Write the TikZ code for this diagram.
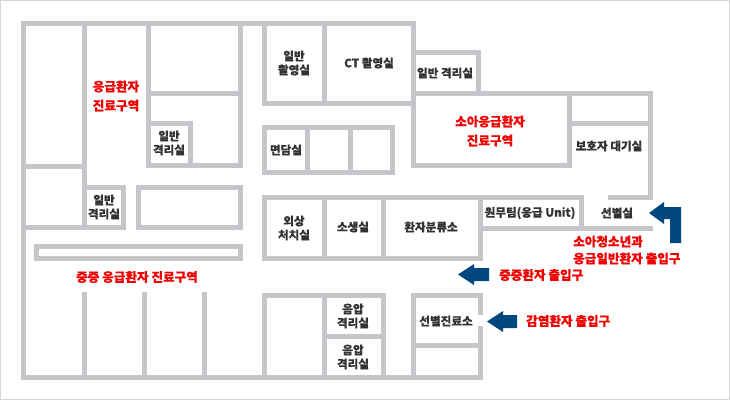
\documentclass[tikz,border=0pt]{standalone}
\usepackage{fontspec}
\setmainfont{Noto Sans CJK KR}[FakeBold=0.25]
\definecolor{wall}{RGB}{197,198,202}
\definecolor{txt}{RGB}{51,51,51}
\definecolor{redt}{RGB}{240,0,0}
\definecolor{arr}{RGB}{0,70,127}
\begin{document}
\begin{tikzpicture}[x=1pt,y=-1pt,
  w/.style={draw=wall,line width=5pt,line cap=rect,line join=miter},
  lbl/.style={text=txt,font=\fontsize{11.6}{14}\selectfont\bfseries,align=center,inner sep=0},
  rlbl/.style={text=redt,font=\fontsize{12.6}{19}\selectfont\bfseries,align=center,inner sep=0},
  rl/.style={text=redt,font=\fontsize{12.6}{17}\selectfont\bfseries,align=left,inner sep=0,anchor=west},
  ar/.style={fill=arr,draw=none}]
\useasboundingbox (0,0) rectangle (730,400);
\draw[draw={rgb,255:red,215;green,215;blue,215},line width=1pt] (0.5,0.5) rectangle (729.5,399.5);
% upper left block
\draw[w] (23,23) -- (413,23);
\draw[w] (23,23) -- (23,377) -- (480,377);
\draw[w] (84,23) -- (84,227);
\draw[w] (23,166) -- (84,166);
\draw[w] (23,227) -- (123,227) -- (123,187) -- (84,187);
\draw[w] (138,227) rectangle (240,187);
\draw[w] (148,23) -- (148,165) -- (240,165) -- (240,23);
\draw[w] (148,93) -- (240,93);
\draw[w] (148,123) -- (190,123) -- (190,165);
% top middle
\draw[w] (264,23) -- (264,103) -- (413,103) -- (413,23);
\draw[w] (324,23) -- (324,103);
\draw[w] (413,52) -- (478,52) -- (478,93);
\draw[w] (413,93) rectangle (569,165);
\draw[w] (569,93) -- (650,93) -- (650,197) -- (610,197);
\draw[w] (569,123) -- (650,123);
\draw[w] (569,165) -- (569,93);
\draw[w] (264,127) rectangle (392,172);
\draw[w] (307,127) -- (307,172);
\draw[w] (350,127) -- (350,172);
% middle row
\draw[w] (578,197) -- (264,197) -- (264,258) -- (383,258) -- (383,197);
\draw[w] (324,197) -- (324,258);
\draw[w] (480,197) -- (480,228) -- (650,228);
\draw[w] (581,197) -- (581,228);
\draw[w] (383,258) -- (480,258) -- (480,228);
% bottom
\draw[w] (36,246) rectangle (240,258);
\draw[w] (84,294) -- (84,377);
\draw[w] (144,294) -- (144,377);
\draw[w] (204,294) -- (204,377);
\draw[w] (264,377) -- (264,295) -- (383,295) -- (383,377);
\draw[w] (324,295) -- (324,377);
\draw[w] (324,336) -- (383,336);
\draw[w] (480,312) -- (480,295) -- (413,295) -- (413,377);
\draw[w] (480,328) -- (480,377);
\draw[w] (413,345) -- (480,345);
% labels
\node[rlbl] (er) at (116,96) {응급환자\\진료구역};
\node[lbl] (iso1) at (169,143) {일반\\격리실};
\node[lbl] (xray) at (294,63) {일반\\촬영실};
\node[lbl] (ct) at (369,63) {CT 촬영실};
\node[lbl] (iso2) at (445,73) {일반 격리실};
\node[rlbl] (ped) at (490,131) {소아응급환자\\진료구역};
\node[lbl] (guard) at (609,146) {보호자 대기실};
\node[lbl] (talk) at (286,150) {면담실};
\node[lbl] (iso3) at (104,207) {일반\\격리실};
\node[lbl] (trauma) at (294,228) {외상\\처치실};
\node[lbl] (resus) at (353,227) {소생실};
\node[lbl] (triage) at (431,227) {환자분류소};
\node[lbl] (admin) at (530,213) {원무팀(응급 Unit)};
\node[lbl] (screen) at (617,213) {선별실};
\node[rlbl] (severe) at (137,277) {중증 응급환자 진료구역};
\node[lbl] (neg1) at (353,316) {음압\\격리실};
\node[lbl] (neg2) at (353,357) {음압\\격리실};
\node[lbl] (clinic) at (446,321) {선별진료소};
% arrows
\fill[ar] (681,243) -- (681,207) -- (664,207) -- (664,202) -- (649,213) -- (664,224) -- (664,219) -- (670,219) -- (670,243) -- cycle;
\fill[ar] (489,268) -- (474,268) -- (474,264) -- (458,274.5) -- (474,285) -- (474,281) -- (489,281) -- cycle;
\fill[ar] (517,315) -- (503,315) -- (503,311) -- (487,321.5) -- (503,332) -- (503,328) -- (517,328) -- cycle;
\node[rl] (ent1) at (573,250) {소아청소년과\\응급일반환자 출입구};
\node[rl] (ent2) at (499,275) {중증환자 출입구};
\node[rl] (ent3) at (526,321) {감염환자 출입구};
\end{tikzpicture}
\end{document}
